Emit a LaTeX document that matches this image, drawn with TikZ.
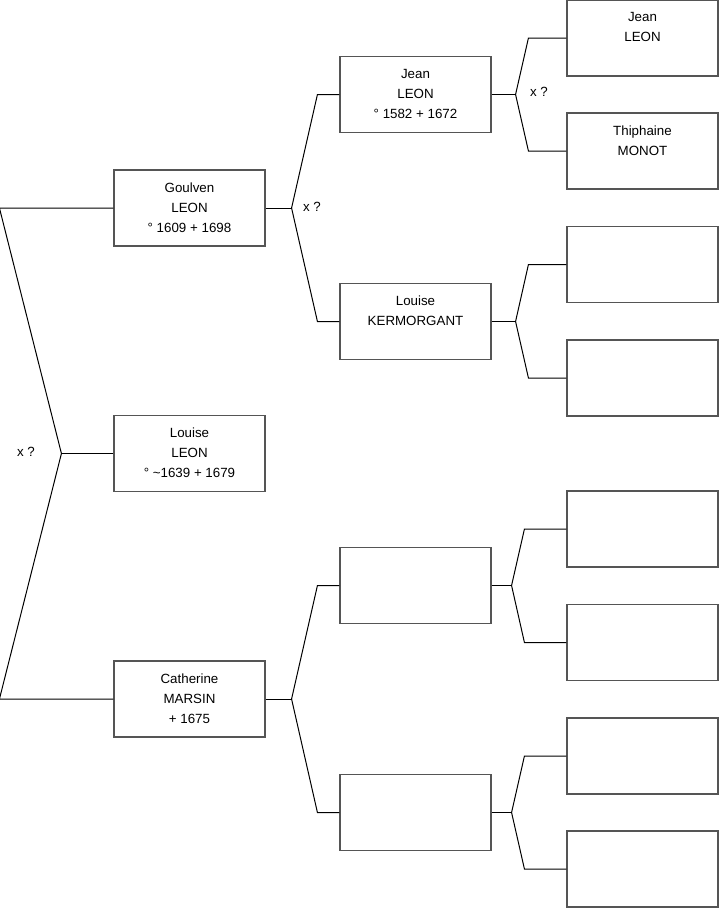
\documentclass[tikz,border=0pt]{standalone}
\usepackage{fontspec}
\setmainfont{Liberation Sans}
\usepackage{tikz}
\usetikzlibrary{positioning}
\definecolor{boxgray}{RGB}{85,85,85}

\begin{document}
\begin{tikzpicture}[
  x=0.75pt,y=-0.75pt,
  pbox/.style={draw=boxgray,fill=white,line width=0.85pt,minimum width=113.25pt,minimum height=57pt},
  ptext/.style={inner sep=0pt,align=center,font=\fontsize{10}{15}\selectfont,below=9.6pt of #1.north},
  link/.style={draw=black,line width=0.75pt},
  lbl/.style={font=\fontsize{10}{12}\selectfont},
]
  \useasboundingbox (0,0) rectangle (719,908);
  % generation 1
  \node[pbox] (g1) at (189.5,208)   {};
  \node[pbox] (l1) at (189.5,453.5) {};
  \node[pbox] (c1) at (189.5,699)   {};
  \node[ptext=g1] (g1t) {Goulven\\LEON\\° 1609 + 1698};
  \node[ptext=l1] (l1t) {Louise\\LEON\\° \textasciitilde1639 + 1679};
  \node[ptext=c1] (c1t) {Catherine\\MARSIN\\+ 1675};
  % generation 2
  \node[pbox] (j2) at (415.5,94.5)  {};
  \node[pbox] (k2) at (415.5,321.5) {};
  \node[pbox] (e1) at (415.5,585.5) {};
  \node[pbox] (e2) at (415.5,812.5) {};
  \node[ptext=j2] (j2t) {Jean\\LEON\\° 1582 + 1672};
  \node[ptext=k2] (k2t) {Louise\\KERMORGANT};
  % generation 3
  \node[pbox] (t1) at (642.5,38)  {};
  \node[pbox] (t2) at (642.5,151) {};
  \foreach \i/\y in {3/264.5,4/378,5/529,6/642.5,7/756,8/869} {
    \node[pbox] (t\i) at (642.5,\y) {};
  }
  \node[ptext=t1] (t1t) {Jean\\LEON};
  \node[ptext=t2] (t2t) {Thiphaine\\MONOT};
  % forks
  \draw[link] (l1.west) -- ++(-52,0) coordinate (f0);
  \draw[link] (g1.west) -- ++(-114,0) -- (f0);
  \draw[link] (c1.west) -- ++(-114,0) -- (f0);
  \foreach \p/\a/\b/\d/\h in {g1/j2/k2/26/22, c1/e1/e2/26/22, j2/t1/t2/24/38,
                              k2/t3/t4/24/38, e1/t5/t6/20/42, e2/t7/t8/20/42} {
    \draw[link] (\p.east) -- ++(\d,0) coordinate (f\p);
    \draw[link] (\a.west) -- ++(-\h,0) -- (f\p);
    \draw[link] (\b.west) -- ++(-\h,0) -- (f\p);
  }
  \node[lbl] (x0) at (26,452)  {x ?};
  \node[lbl] (x1) at (312,207) {x ?};
  \node[lbl] (x2) at (539,92)  {x ?};
\end{tikzpicture}
\end{document}
